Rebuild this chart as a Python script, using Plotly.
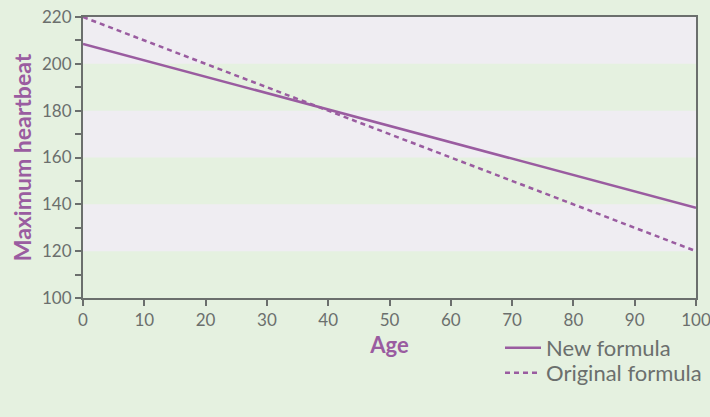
import plotly.graph_objects as go

ages = [0, 10, 20, 30, 40, 50, 60, 70, 80, 90, 100]
new_formula = [208.5, 201.5, 194.5, 187.5, 180.5, 173.5, 166.5, 159.5, 152.5, 145.5, 138.5]
original_formula = [220, 210, 200, 190, 180, 170, 160, 150, 140, 130, 120]
band_ranges = [(120, 140), (160, 180), (200, 220)]
x_ticks = [0, 10, 20, 30, 40, 50, 60, 70, 80, 90, 100]
y_ticks = [100, 120, 140, 160, 180, 200, 220]

PURPLE = "#9a5ca0"
GREY = "#6b6f6d"
GREEN = "#e5f1e0"
LILAC = "#efedf2"
FONT = "Lato"

fig = go.Figure()
fig.add_trace(go.Scatter(x=ages, y=new_formula, mode="lines", name="New formula",
                         line=dict(color=PURPLE, width=2.5), legend="legend"))
fig.add_trace(go.Scatter(x=ages, y=original_formula, mode="lines", name="Original formula",
                         line=dict(color=PURPLE, width=2.5, dash="5px,4px"), legend="legend2"))

for lo, hi in band_ranges:
    fig.add_shape(type="rect", xref="paper", yref="y", x0=0, x1=1, y0=lo, y1=hi,
                  fillcolor=LILAC, line_width=0, layer="below")

legend_common = dict(xref="container", yref="container", xanchor="left", yanchor="middle",
                     bgcolor="rgba(0,0,0,0)", font=dict(size=22, color=GREY),
                     itemwidth=36)

fig.update_layout(
    width=710, height=417,
    margin=dict(l=83, r=14, t=17, b=119, autoexpand=False),
    paper_bgcolor=GREEN, plot_bgcolor=GREEN,
    font=dict(family=FONT, color=GREY, size=17),
    showlegend=True,
    legend=dict(x=500 / 710, y=1 - 348 / 417, **legend_common),
    legend2=dict(x=500 / 710, y=1 - 373 / 417, **legend_common),
    xaxis=dict(range=[0, 100], tickvals=x_ticks, ticks="outside", ticklen=6,
               tickcolor=GREY, tickwidth=2, showline=True, linecolor=GREY, linewidth=2,
               mirror=True, showgrid=False, zeroline=False, automargin=False,
               ticklabeloverflow="allow",
               title=dict(text="<b>Age</b>", font=dict(color=PURPLE, size=22), standoff=8)),
    yaxis=dict(range=[100, 220], tickvals=y_ticks, ticks="outside", ticklen=6,
               tickcolor=GREY, tickwidth=2, showline=True, linecolor=GREY, linewidth=2,
               mirror=True, showgrid=False, zeroline=False, automargin=False,
               ticklabeloverflow="allow",
               minor=dict(dtick=10, ticks="outside", ticklen=6, tickcolor=GREY, tickwidth=2,
                          showgrid=False),
               title=dict(text="<b>Maximum heartbeat</b>", font=dict(color=PURPLE, size=23),
                          standoff=4)),
)

fig.write_html("out.html",
               config={"displayModeBar": False},
               post_script="document.body.style.margin='0';"
                           "document.body.style.background='" + GREEN + "';")
